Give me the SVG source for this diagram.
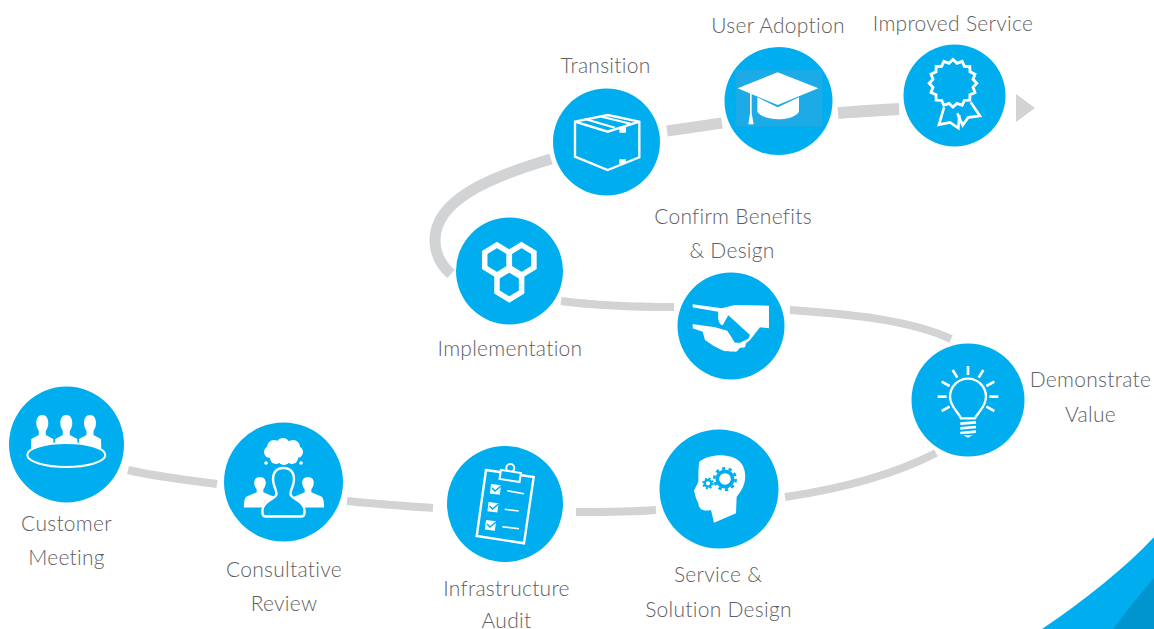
<svg xmlns="http://www.w3.org/2000/svg" width="1154" height="629" viewBox="0 0 1154 629">
<style>
.c{fill:#00aeef}
.t{font-family:"Lato","Noto Sans",sans-serif;font-weight:300;font-size:21px;fill:#5f6062;text-anchor:middle;letter-spacing:.27px}
.l{fill:none;stroke:#d1d3d4;stroke-linecap:butt}
.w{fill:#fff}
.o{fill:none;stroke:#fff;stroke-width:2.4}
.b{fill:#00aeef}
</style>
<defs>
<path id="person" d="M0,-13 C-5,-13 -6.500,-8.500 -6,-5 C-5.800,-2 -4.500,0 -3.500,1.500 L-3.500,5 L-14,10 C-16,11 -17,16 -17,23 L17,23 C17,16 16,11 14,10 L3.500,5 L3.500,1.500 C4.500,0 5.800,-2 6,-5 C6.500,-8.500 5,-13 0,-13Z"/>
<path id="sitter" d="M0,-15 C-5,-15 -6,-10 -6,-7 C-6,-3 -4.500,-1 -3.500,1 L-3.500,5 L-11,9 L-11.500,25 L11.500,25 L11,9 L3.500,5 L3.500,1 C4.500,-1 6,-3 6,-7 C6,-10 5,-15 0,-15Z"/>
<polygon id="hex" points="0,-15 12.300,-7.500 12.300,7.500 0,15 -12.300,7.500 -12.300,-7.500"/>
</defs>
<rect width="1154" height="629" fill="#fff"/>
<path d="M1042,629 C1085,600 1125,568 1154,537 L1154,629Z" fill="#00aeef"/>
<path d="M1113,629 C1127,610 1141,593 1154,578 L1154,629Z" fill="#0095cf"/>
<g id="connectors">
<path class="l" stroke-width="8" d="M128,470 C158,477 188,480 217,484"/>
<path class="l" stroke-width="8" d="M347,501 C376,504 405,506 433,508"/>
<path class="l" stroke-width="8" d="M576,512 C604,512 630,512 656,510"/>
<path class="l" stroke-width="8" d="M785,497 C840,489 895,474 936,453"/>
<path class="l" stroke-width="8" d="M790,310 C850,314 910,320 951,339"/>
<path class="l" stroke-width="8" d="M561,301 C600,306 640,307 674,307"/>
<path class="l" stroke-width="11" d="M551,159 C490,177 435,200 435,240 C435,255 442,266 451,274"/>
<path class="l" stroke-width="11" d="M667,131 L722,123"/>
<path class="l" stroke-width="12" d="M838,113 C860,111 880,110 899,109"/>
<polygon points="1016,94 1035,108 1016,122" fill="#d1d3d4"/>
</g>
<g id="customer-meeting">
<ellipse class="c" cx="66.500" cy="444.500" rx="57.500" ry="58"/>
<use href="#sitter" class="w" transform="translate(42.300 430)"/>
<use href="#sitter" class="w" transform="translate(90 430)"/>
<use href="#sitter" class="w" transform="translate(66.300 430)"/>
<ellipse cx="66.300" cy="455" rx="39" ry="12" fill="#00aeef" stroke="#fff" stroke-width="2"/>
<text class="t" x="66.500" y="531">Customer</text>
<text class="t" x="66.500" y="565">Meeting</text>
</g>
<g id="consultative-review">
<circle class="c" cx="283.500" cy="482" r="59.500"/>
<g class="w"><circle cx="274" cy="447" r="7"/><circle cx="283" cy="445" r="7"/><circle cx="293" cy="447" r="7"/><circle cx="270" cy="452" r="6"/><circle cx="297" cy="452" r="6"/><circle cx="276" cy="458" r="6"/><circle cx="284" cy="459" r="6"/><circle cx="292" cy="458" r="6"/><rect x="270" y="446" width="27" height="12"/><circle cx="266" cy="463" r="1.800"/><circle cx="301" cy="463" r="1.800"/></g>
<use href="#person" class="w" transform="translate(260 488) scale(.95 .85)"/>
<use href="#person" class="w" transform="translate(308 488) scale(.95 .85)"/>
<path class="b" stroke="#fff" stroke-width="2.400" d="M283.500,468 C274,468 272,476 273.500,483 C274.500,488 276.500,490 276.500,494 C276.500,499 263,500 262.500,510 L262.500,513 Q262.500,516.500 266,516.500 L301,516.500 Q304.500,516.500 304.500,513 L304.500,510 C304,500 290.500,499 290.500,494 C290.500,490 292.500,488 293.500,483 C295,476 293,468 283.500,468Z"/>
<text class="t" x="284" y="576.500">Consultative</text>
<text class="t" x="284" y="610.500">Review</text>
</g>
<g id="infrastructure-audit">
<circle class="c" cx="505" cy="504" r="58"/>
<polygon class="o" points="486,470 533.700,477 524,543.300 476.700,536"/>
<circle cx="510.300" cy="468" r="4" fill="#00aeef" stroke="#fff" stroke-width="2"/>
<polygon points="501,470 521,473 519.500,482 499.500,479" fill="#00aeef" stroke="#fff" stroke-width="2"/>
<g class="w"><rect x="490.500" y="484.500" width="10" height="9.500" transform="rotate(7 495 489)"/><rect x="488" y="502.500" width="10" height="9.500" transform="rotate(7 493 507)"/><rect x="485.500" y="520.500" width="10" height="9.500" transform="rotate(7 490 525)"/></g>
<g fill="none" stroke="#00aeef" stroke-width="1.600"><path d="M492,488 L495,491 L501,486"/><path d="M489.500,506 L492.500,509 L498.500,504"/><path d="M487,524 L490,527 L496,522"/></g>
<g class="o" style="stroke-width:1.600"><path d="M507.300,490.700 L524,493.700"/><path d="M504.700,509.300 L518.700,511"/><path d="M502.300,526.700 L519,528.700"/></g>
<text class="t" x="506.500" y="595.500">Infrastructure</text>
<text class="t" x="506.500" y="628">Audit</text>
</g>
<g id="service-solution-design">
<circle class="c" cx="719" cy="489" r="59.500"/>
<g transform="translate(340 400) scale(.33333)">
<path class="w" d="M1078,185 C1110,160 1190,155 1210,200 C1222,230 1215,262 1190,290 L1188,340 L1122,368 L1113,330 C1095,335 1075,330 1075,310 L1068,295 L1062,272 L1075,245 C1075,220 1075,200 1078,185Z"/>
<circle cx="1155" cy="237" r="23" fill="none" stroke="#00aeef" stroke-width="11"/>
<circle cx="1155" cy="237" r="32" fill="none" stroke="#00aeef" stroke-width="8" stroke-dasharray="10 10.100"/>
<circle cx="1104" cy="250" r="10" fill="none" stroke="#00aeef" stroke-width="7"/>
<circle cx="1104" cy="250" r="15" fill="none" stroke="#00aeef" stroke-width="5" stroke-dasharray="5.900 5.900"/>
</g>
<text class="t" x="718" y="581.500">Service &amp;</text>
<text class="t" x="718.500" y="616.500">Solution Design</text>
</g>
<g id="demonstrate-value">
<circle class="c" cx="968" cy="400" r="56.500"/>
<g transform="translate(900 330) scale(.33333)">
<path d="M183,265 C175,245 150,230 150,200 A54,54 0 0 1 258,200 C258,230 235,245 225,265Z" fill="none" stroke="#fff" stroke-width="7"/>
<g fill="none" stroke="#fff" stroke-width="8"><path d="M204,108V135"/><path d="M158,120L172,143"/><path d="M250,120L236,143"/><path d="M125,155L149,168"/><path d="M283,155L259,168"/><path d="M113,200H140"/><path d="M268,200H295"/><path d="M125,243L149,230"/><path d="M283,243L259,230"/>
<path d="M181,281L228,277"/><path d="M181,295L228,291"/><path d="M181,309L228,305"/></g>
<path class="w" d="M190,316H218L204,323Z"/>
</g>
<text class="t" x="1090.500" y="386.500">Demonstrate</text>
<text class="t" x="1090.500" y="421.500">Value</text>
</g>
<g id="confirm-benefits-design">
<circle class="c" cx="731" cy="326" r="53.500"/>
<g transform="translate(420 200) scale(.33333)">
<path class="w" d="M818,313 L905,325 L945,315 L1047,317 L1047,385 L1020,382 L990,420 L960,445 L935,455 L905,450 L880,437 L855,420 L848,395 L818,385Z"/>
<g class="w"><circle cx="868" cy="408" r="13"/><circle cx="893" cy="424" r="15"/><circle cx="918" cy="438" r="16"/><circle cx="945" cy="444" r="11"/><circle cx="968" cy="434" r="9"/></g>
<path class="b" d="M816,322 L895,335 C893,355 895,372 908,376 L925,346 L990,405 L985,416 L960,428 L945,428 L922,392 L885,382 L860,378 L816,372Z"/>
</g>
<text class="t" x="733" y="223.500">Confirm Benefits</text>
<text class="t" x="732" y="257.500">&amp; Design</text>
</g>
<g id="implementation">
<circle class="c" cx="509.500" cy="271" r="53.500"/>
<g fill="none" stroke="#fff" stroke-width="5.500"><use href="#hex" x="497" y="260"/><use href="#hex" x="521.600" y="260"/><use href="#hex" x="509.300" y="284.500"/></g>
<text class="t" x="510" y="355.500">Implementation</text>
</g>
<g id="transition">
<circle class="c" cx="606.500" cy="142" r="53.500"/>
<g transform="translate(540 0) scale(.33333)">
<path d="M105,365 L203,345 L298,365 L298,472 L203,510 L105,470Z M105,365 L203,395 L298,365 M203,395" fill="none" stroke="#fff" stroke-width="7"/>
<path d="M135,357 L225,383 M185,350 L275,372" fill="none" stroke="#fff" stroke-width="6"/>
<path class="w" d="M238,380H258V398H238Z M238,478H258V492H238Z"/>
</g>
<text class="t" x="605.500" y="72.500">Transition</text>
</g>
<g id="user-adoption">
<circle class="c" cx="778.500" cy="101" r="54"/>
<rect x="735.700" y="70" width="86.600" height="56.700" fill="#1cabe6"/>
<g transform="translate(540 0) scale(.33333)">
<path class="w" d="M652,292 L713,322 L777,292 L777,335 C760,365 670,365 652,335Z"/>
<path class="w" d="M713,217 L835,265 L713,315 L593,265Z"/>
<path class="w" d="M630,280H635V340L641,373H625L630,340Z"/>
</g>
<text class="t" x="778" y="32.500">User Adoption</text>
</g>
<g id="improved-service">
<circle class="c" cx="954.500" cy="95.500" r="51"/>
<polygon points="25,0 21.100,4.200 23.100,9.600 17.900,12 17.700,17.700 12,17.900 9.600,23.100 4.200,21.100 0,25 -4.200,21.100 -9.600,23.100 -12,17.900 -17.700,17.700 -17.900,12 -23.100,9.600 -21.100,4.200 -25,0 -21.100,-4.200 -23.100,-9.600 -17.900,-12 -17.700,-17.700 -12,-17.900 -9.600,-23.100 -4.200,-21.100 0,-25 4.200,-21.100 9.600,-23.100 12,-17.900 17.700,-17.700 17.900,-12 23.100,-9.600 21.100,-4.200" fill="none" stroke="#fff" stroke-width="3" transform="translate(953 83.300) scale(.95)"/>
<g transform="translate(840 0) scale(.33333)" fill="none" stroke="#fff" stroke-width="8">
<path d="M312,322 L297,374 L330,367 L355,384 L358,345"/>
<path d="M392,307 L420,348 L385,352 L368,376 L352,340"/>
</g>
<text class="t" x="953" y="30.500">Improved Service</text>
</g>
</svg>
